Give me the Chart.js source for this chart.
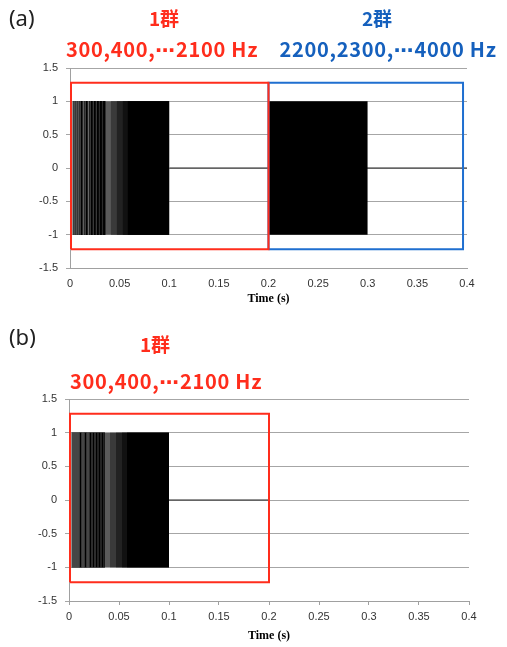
<!DOCTYPE html>
<html>
<head>
<meta charset="utf-8">
<script src="https://cdn.jsdelivr.net/npm/chart.js@4/dist/chart.umd.min.js"></script>
<style>
  body { margin: 0; background: #fff; }
  #page { position: relative; width: 507px; height: 647px; overflow: hidden; }
  canvas { position: absolute; left: 0; }
  #chartA { top: 0; }
  #chartB { top: 330px; }
  .lbl { position: absolute; white-space: nowrap; transform: translate(-50%, -50%); font-family: "Noto Sans CJK JP", "Noto Sans", sans-serif; font-weight: 700; }
  .panel { position: absolute; font-family: "Noto Sans", sans-serif; font-size: 22px; color: #222; transform: translateY(-50%); }
  .red { color: #ff2d1c; }
  .blue { color: #1560bd; }
  .big { font-size: 19px; }
  .freq { font-size: 20px; letter-spacing: 0.7px; }
  .dots { font-family: "DejaVu Sans", sans-serif; font-weight: 700; }
</style>
</head>
<body>
<div id="page">
  <canvas id="chartA" width="507" height="310"></canvas>
  <canvas id="chartB" width="507" height="317"></canvas>

  <div class="panel" style="left:9px; top:17px;">(a)</div>
  <div class="lbl big red" style="left:164px; top:17px;">1群</div>
  <div class="lbl freq red" style="left:162px; top:48px;">300,400,<span class="dots">⋯</span>2100 Hz</div>
  <div class="lbl big blue" style="left:377px; top:17px;">2群</div>
  <div class="lbl freq blue" style="left:388px; top:48px;">2200,2300,<span class="dots">⋯</span>4000 Hz</div>

  <div class="panel" style="left:9px; top:336px;">(b)</div>
  <div class="lbl big red" style="left:155px; top:343px;">1群</div>
  <div class="lbl freq red" style="left:166px; top:380px;">300,400,<span class="dots">⋯</span>2100 Hz</div>
</div>

<script>
const timeTicks = [0, 0.05, 0.1, 0.15, 0.2, 0.25, 0.3, 0.35, 0.4];
const ampTicks = [-1.5, -1, -0.5, 0, 0.5, 1, 1.5];

// 1群 burst: the separate strokes that can still be told apart at the start
const group1Strokes = [0.0017, 0.004, 0.006, 0.008, 0.010, 0.0115, 0.013, 0.015, 0.0165,
    0.018, 0.020, 0.0215, 0.023, 0.0245, 0.026, 0.0275, 0.029, 0.0305, 0.032, 0.0335, 0.035];
// where the gaps between strokes get darker; each shade runs on to the end of the burst
const group1ShadeStarts = [0.0017, 0.02, 0.028, 0.035, 0.041, 0.047, 0.053, 0.058];
const group1End = 0.1;
const group2Span = [0.2, 0.3];
const peakAmp = [-1, 1];

// signal sits at zero after the bursts
const silenceA = [0.1, 0.4];
const silenceB = [0.1, 0.2];

// group boxes
const box1Time = [0.001, 0.2];
const box2Time = [0.2, 0.396];
const boxAmp = [-1.22, 1.28];

const shadeColors = ['#ffffff', '#d8d8d8', '#a8a8a8', '#5a5a5a', '#3a3a3a', '#222222', '#111111', '#000'];

function boxPoints(t, a) {
    return [
        { x: t[0], y: a[0] }, { x: t[0], y: a[1] }, { x: t[1], y: a[1] },
        { x: t[1], y: a[0] }, { x: t[0], y: a[0] }
    ];
}

function spanPoints(t, y) {
    return [{ x: t[0], y: y }, { x: t[1], y: y }];
}

function bandDataset(t0, t1, color, order) {
    return {
        data: spanPoints([t0, t1], peakAmp[1]),
        borderWidth: 0,
        borderColor: 'rgba(0,0,0,0)',
        fill: { value: peakAmp[0] },
        backgroundColor: color,
        order: order
    };
}

function makePanel(id, withGroup2, area) {
    const datasets = [
        { data: boxPoints(box1Time, boxAmp), borderColor: '#ff2d1c', borderWidth: 2, order: 0 },
        {
            type: 'bar',
            data: group1Strokes.map(t => ({ x: t, y: peakAmp })),
            backgroundColor: '#000',
            barThickness: 0.8,
            grouped: false,
            order: 1
        },
        { data: spanPoints(withGroup2 ? silenceA : silenceB, 0), borderColor: '#222', borderWidth: 1, order: 30 }
    ];
    // darker shades sit on top of the lighter ones, so no seams show
    group1ShadeStarts.forEach((t, i) => {
        datasets.push(bandDataset(t, group1End, shadeColors[i], 20 - i));
    });
    if (withGroup2) {
        datasets.push({ data: boxPoints(box2Time, boxAmp), borderColor: '#1f6fd0', borderWidth: 2, order: 0 });
        datasets.push(bandDataset(group2Span[0], group2Span[1], '#000', 2));
    }
    datasets.forEach(d => { d.pointRadius = 0; d.pointHoverRadius = 0; d.tension = 0; d.clip = false; });

    return new Chart(document.getElementById(id), {
        type: 'line',
        data: { datasets: datasets },
        options: {
            responsive: false,
            animation: false,
            devicePixelRatio: 1,
            layout: { padding: { top: area.top, right: area.right, left: 0, bottom: 0 } },
            plugins: { legend: { display: false }, tooltip: { enabled: false } },
            scales: {
                x: {
                    type: 'linear',
                    min: 0,
                    max: 0.4,
                    offset: false,
                    afterBuildTicks: s => { s.ticks = timeTicks.map(v => ({ value: v })); },
                    afterFit: s => { s.height = area.xHeight; },
                    ticks: {
                        color: '#333',
                        font: { family: 'Liberation Sans', size: 11 },
                        padding: withGroup2 ? 9 : 5,
                        maxRotation: 0,
                        callback: v => String(+v.toFixed(2))
                    },
                    grid: { drawOnChartArea: false, drawTicks: !withGroup2, tickLength: 4, color: '#a0a0a0', offset: false },
                    border: { color: '#a0a0a0' },
                    title: {
                        display: true,
                        text: 'Time (s)',
                        color: '#000',
                        font: { family: 'Liberation Serif', size: 12, weight: 'bold' }
                    }
                },
                y: {
                    min: -1.5,
                    max: 1.5,
                    afterBuildTicks: s => { s.ticks = ampTicks.map(v => ({ value: v })); },
                    afterFit: s => { s.width = area.left; },
                    ticks: {
                        color: '#333',
                        font: { family: 'Liberation Sans', size: 11 },
                        padding: 8,
                        callback: v => String(v)
                    },
                    grid: { color: '#a6a6a6', tickLength: 4 },
                    border: { color: '#a0a0a0' }
                }
            }
        }
    });
}

makePanel('chartA', true, { top: 68, right: 40, left: 70, xHeight: 42 });
makePanel('chartB', false, { top: 69, right: 38, left: 69, xHeight: 46 });
</script>
</body>
</html>
